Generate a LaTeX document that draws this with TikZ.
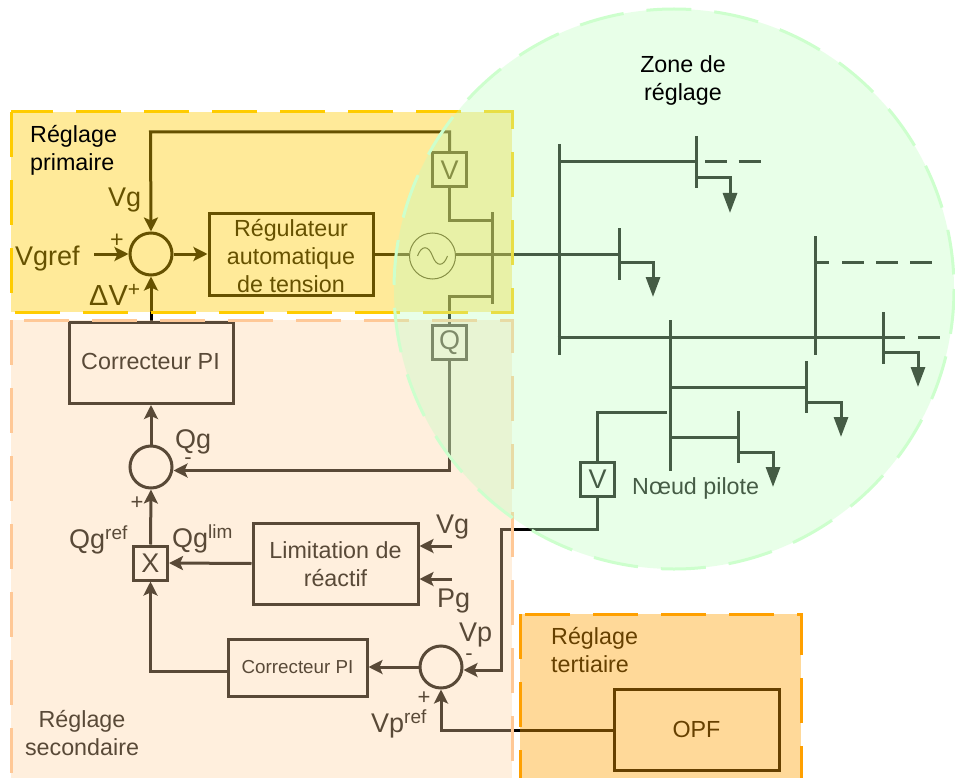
\documentclass[tikz,border=0pt]{standalone}
\usepackage{fontspec}
\setmainfont{Liberation Sans}
\usetikzlibrary{arrows.meta,calc}
\definecolor{yfill}{RGB}{255,204,0}
\definecolor{pfill}{RGB}{255,211,160}
\definecolor{pline}{RGB}{255,200,150}
\definecolor{tfill}{RGB}{255,160,0}
\definecolor{gfill}{RGB}{194,255,194}
\definecolor{gline}{RGB}{205,255,205}
\newcommand{\supr}[1]{\raisebox{8.5pt}{\fontsize{19}{19}\selectfont #1}}
\tikzset{
 x=1pt,y=-1pt,
 ln/.style={line width=3pt,line join=miter},
 arw/.style={ln,-{Stealth[length=14pt,width=14pt,inset=3pt]}},
 net/.style={line width=3pt},
 load/.style={net,-{Triangle[length=20pt,width=14pt]}},
 sumc/.style={draw,circle,line width=3pt,minimum size=42pt,inner sep=0pt},
 meas/.style={draw,line width=3pt,minimum size=34pt,inner sep=0pt,font=\fontsize{27}{27}\selectfont},
 tm/.style={inner sep=0pt,font=\fontsize{23.3}{28}\selectfont,align=center},
 tl/.style={inner sep=0pt,font=\fontsize{27}{27}\selectfont},
 ts/.style={inner sep=0pt,font=\fontsize{22}{22}\selectfont},
 regdash/.style={line width=3pt,dash pattern=on 45pt off 23pt},
}
\begin{document}
\begin{tikzpicture}
\clip (0,0) rectangle (955,778);
\fill[white] (0,0) rectangle (955,778);

% === blocks ===
\node[sumc] (s1) at (151,254) {};
\node[sumc] (s2) at (151,467) {};
\node[sumc] (s3) at (441,667) {};
\node[draw,line width=3pt,inner sep=0pt,minimum width=164pt,minimum height=82pt] (reg) at (291,254) {};
\node[tm] (regt) at (291,256) {R\'egulateur\\automatique\\de tension};
\node[draw,line width=3pt,inner sep=0pt,minimum width=164pt,minimum height=81pt,tm] (pi1) at (151,363) {};
\node[tm] (pi1t) at (150.5,361) {Correcteur PI};
\node[draw,line width=3pt,inner sep=0pt,minimum width=165pt,minimum height=81pt] (lim) at (335.5,563.5) {};
\node[tm] (limt) at (335.5,564.5) {Limitation de\\r\'eactif};
\node[draw,line width=3pt,inner sep=0pt,minimum width=139pt,minimum height=57pt,font=\fontsize{18.8}{22}\selectfont] (pi2) at (297.5,667.5) {Correcteur PI};
\node[draw,line width=3pt,inner sep=0pt,minimum width=165pt,minimum height=81pt,tm] (opf) at (696.5,729.5) {OPF};
\node[meas] (vb) at (449.5,170) {V};
\node[meas] (qb) at (449.5,342.5) {Q};
\node[meas] (vp) at (597.5,479) {V};
\node[meas] (xb) at (150.5,563) {X};
\node[draw,circle,line width=1pt,minimum size=46pt,inner sep=0pt] (gen) at (432.5,256) {};
\draw[line width=1pt,shift={(gen)}] (-15,0) .. controls (-11,-11) and (-4,-11) .. (0,0) .. controls (4,11) and (11,11) .. (15,0);

% === buses of the group ===
\coordinate (gbt) at (492,212); \coordinate (gbb) at (492,304);
\coordinate (vgc) at (449.5,132); \coordinate (vgd) at (150.5,132);
\coordinate (vbl) at (449.5,220); \coordinate (vbr) at (492,220);
\coordinate (qbl) at (449.5,296); \coordinate (qbr) at (492,296);
\coordinate (qdn) at (449.5,470.5);
\coordinate (vgin) at (94,254);
\coordinate (lv) at (452,546); \coordinate (lp) at (452,579);
\coordinate (pc) at (150.5,671);
\coordinate (vpa) at (597.5,529); \coordinate (vpb) at (501,529); \coordinate (vpc) at (501,670);
\coordinate (opfc) at (441,730);

\draw[ln] (gbt) -- (gbb);
\draw[arw] (vb.north) -- (vgc) -- (vgd) -- (s1.north);
\draw[ln] (vb.south) -- (vbl) -- (vbr);
\draw[ln] (qb.north) -- (qbl) -- (qbr);
\draw[arw] (vgin) -- (s1.west);
\draw[arw] (s1.east) -- (reg.west);
\draw[ln] (reg.east) -- (gen.west |- reg.east);
\draw[arw] (pi1.north) -- (s1.south);
\draw[arw] (s2.north) -- (pi1.south);
\draw[arw] (qb.south) -- (qdn) -- (s2.east |- qdn);
\draw[arw] (xb.north) -- (s2.south);
\draw[arw] (lim.west) -- (xb.east);
\draw[arw] (lv) -- (lim.east |- lv);
\draw[arw] (lp) -- (lim.east |- lp);
\draw[arw] (pi2.west |- pc) -- (pc) -- (xb.south);
\draw[arw] (s3.west) -- (pi2.east |- s3.west);
\draw[arw] (vp.south) -- (vpa) -- (vpb) -- (vpc) -- (s3.east |- vpc);
\draw[arw] (opf.west |- opfc) -- (opfc) -- (s3.south);

% === network ===
\coordinate (m1) at (559,144); \coordinate (m2) at (559,355);
\coordinate (a1) at (696,136); \coordinate (a2) at (696,188);
\coordinate (b1) at (619,228); \coordinate (b2) at (619,280);
\coordinate (c1) at (815,236); \coordinate (c2) at (815,355);
\coordinate (d1) at (883.5,312); \coordinate (d2) at (883.5,364);
\coordinate (e1) at (670,320); \coordinate (e2) at (670,471);
\coordinate (f1) at (806.5,361); \coordinate (f2) at (806.5,413);
\coordinate (g1) at (738.5,411); \coordinate (g2) at (738.5,463);
\draw[net] (m1) -- (m2);
\draw[net] (a1) -- (a2);
\draw[net] (b1) -- (b2);
\draw[net] (c1) -- (c2);
\draw[net] (d1) -- (d2);
\draw[net] (e1) -- (e2);
\draw[net] (f1) -- (f2);
\draw[net] (g1) -- (g2);
\draw[net] (gen.east |- reg.east) -- (b1 |- reg.east);
\draw[net] (m1 |- 0,162) -- (a1 |- 0,162);
\draw[net] (557.5,337) -- (d1 |- 0,337) -- (905,337);
\draw[net] (e1 |- 0,387) -- (f1 |- 0,387);
\draw[net] (e1 |- 0,437) -- (g1 |- 0,437);
\draw[net,dash pattern=on 22pt off 11.5pt] (705,162) -- (761,162);
\draw[net] (815,262) -- (829,262);
\draw[net,dash pattern=on 22pt off 12pt] (842,262) -- (932,262);
\draw[net] (918,337) -- (940,337);
\draw[load] (a1 |- 0,178) -- (730,178) -- (730,213);
\draw[load] (b1 |- 0,262) -- (653,262) -- (653,297);
\draw[load] (d1 |- 0,352) -- (918,352) -- (918,387);
\draw[load] (f1 |- 0,402) -- (841,402) -- (841,437);
\draw[load] (g1 |- 0,452) -- (773,452) -- (773,487);
\draw[net] (667,412) -- (597.5,412) -- (vp.north);

% === labels under the tints ===
\node[tl,anchor=base west] (tvgref) at (15,265) {Vgref};
\node[tl,anchor=base west] (tvg) at (108,206) {Vg};
\node[tm,anchor=base] (tpl1) at (117,247) {+};
\node[inner sep=0pt,font=\fontsize{29}{29}\selectfont,anchor=base west] (tdv) at (89,305) {ΔV\raisebox{8.5pt}{\fontsize{21}{21}\selectfont +}};
\node[tl,anchor=base west] (tqg) at (175,448) {Qg};
\node[ts,anchor=base] (tmin1) at (188,464) {-};
\node[ts,anchor=base] (tpl2) at (137,509) {+};
\node[tl,anchor=base west] (tqr) at (69,548) {Qg\supr{ref}};
\node[tl,anchor=base west] (tql) at (172,547) {Qg\supr{lim}};
\node[tl,anchor=base west] (tvg2) at (436,533) {Vg};
\node[tl,anchor=base west] (tpg) at (437,607) {Pg};
\node[tl,anchor=base west] (tvp) at (459,641) {Vp};
\node[ts,anchor=base] (tmin2) at (469,660) {-};
\node[ts,anchor=base] (tpl3) at (424,704) {+};
\node[tl,anchor=base west] (tvr) at (371,732) {Vp\supr{ref}};
\node[tm] (tsec) at (82,733) {R\'eglage\\secondaire};
\node[tm,align=left,anchor=north west] (tter) at (551,627) {R\'eglage\\tertiaire};
\node[tm,anchor=base west] (tnp) at (632,494) {N\oe ud pilote};

% === tints ===
\fill[yfill,fill opacity=.4] (11,112) rectangle (512,312);
\fill[pfill,fill opacity=.35] (11,320) rectangle (512,800);
\fill[tfill,fill opacity=.4] (520,614) rectangle (801,800);
\draw[yfill,regdash] (11,112) rectangle (512,312);
\draw[pline,regdash] (11,320) rectangle (512,800);
\draw[tfill,regdash] (520,614) rectangle (801,800);
\fill[gfill,fill opacity=.36] (674,289) circle[radius=280];
\draw[gline,regdash] (674,289) circle[radius=280];

% === labels over the tints ===
\node[tm,align=left,anchor=north west] (tpri) at (30,125) {R\'eglage\\primaire};
\node[tm] (tzone) at (683,80) {Zone de\\r\'eglage};
\end{tikzpicture}
\end{document}
